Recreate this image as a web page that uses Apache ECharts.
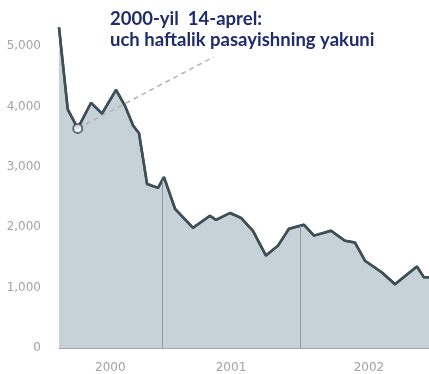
<!DOCTYPE html>
<html>
<head>
<meta charset="utf-8">
<script src="https://cdn.jsdelivr.net/npm/echarts@6/dist/echarts.min.js"></script>
<style>
  html, body { margin: 0; padding: 0; background: #ffffff; }
  #chart { width: 429px; height: 374px; }
</style>
</head>
<body>
<div id="chart"></div>
<script>
// Index level, x measured in months since January 2000
const monthIndex = [3.04, 3.8, 4.67, 5.83, 6.78, 8.0, 8.78, 9.48, 10.0, 10.7, 11.65, 12.17,
  13.13, 14.7, 16.17, 16.7, 17.91, 18.87, 19.91, 21.04, 22.09, 23.04, 24.35, 25.22,
  26.7, 27.91, 28.78, 29.65, 31.13, 32.26, 34.17, 34.78, 35.22];
const indexValue = [5310, 3950, 3635, 4060, 3880, 4275, 4010, 3685, 3555, 2715, 2650, 2830,
  2305, 1990, 2190, 2120, 2235, 2155, 1940, 1530, 1695, 1975, 2040, 1860,
  1940, 1775, 1745, 1445, 1250, 1055, 1350, 1170, 1170];

// Year labels sit mid-way through the visible part of each year
const yearLabels = ['2000', '2001', '2002'];
const yearLabelAt = [7.5, 18, 30];
const yearBoundaries = [12, 24];

// Highlighted low point and callout
const calloutIndex = 2;
const calloutLines = ['2000-yil  14-aprel:', 'uch haftalik pasayishning yakuni'];
const calloutAnchor = [16.5, 4820];

const yTicks = [0, 1000, 2000, 3000, 4000, 5000];

const points = monthIndex.map((m, i) => [m, indexValue[i]]);

function valueAt(m) {
  for (let i = 1; i < monthIndex.length; i++) {
    if (monthIndex[i] >= m) {
      const t = (m - monthIndex[i - 1]) / (monthIndex[i] - monthIndex[i - 1]);
      return indexValue[i - 1] + t * (indexValue[i] - indexValue[i - 1]);
    }
  }
  return indexValue[indexValue.length - 1];
}

const lineColor = '#3f4f57';
const areaColor = '#c6d2d8';

const chart = echarts.init(document.getElementById('chart'), null, { renderer: 'canvas' });

chart.setOption({
  animation: false,
  backgroundColor: '#ffffff',
  grid: { left: 59, right: 0, top: 46, bottom: 24, containLabel: false },
  title: {
    text: calloutLines.join('\n'),
    left: 110,
    top: 9,
    padding: 0,
    textStyle: {
      fontFamily: 'Lato',
      fontWeight: 'bold',
      fontSize: 18.5,
      lineHeight: 21,
      color: '#1f2b6c'
    }
  },
  xAxis: {
    type: 'value',
    min: monthIndex[0],
    max: monthIndex[monthIndex.length - 1],
    axisLine: { show: true, lineStyle: { color: '#9ba7ad', width: 1 } },
    axisTick: { show: false },
    splitLine: { show: false },
    axisLabel: {
      customValues: yearLabelAt,
      formatter: (v) => yearLabels[yearLabelAt.indexOf(v)] || '',
      color: '#a3a3a3',
      fontFamily: 'DejaVu Sans',
      fontSize: 12,
      margin: 14
    }
  },
  yAxis: {
    type: 'value',
    min: 0,
    max: 5000,
    interval: 1000,
    axisLine: { show: false },
    axisTick: { show: false },
    splitLine: { show: false },
    axisLabel: {
      customValues: yTicks,
      formatter: (v) => v.toLocaleString('en-US'),
      color: '#a3a3a3',
      fontFamily: 'DejaVu Sans',
      fontSize: 12,
      margin: 18
    }
  },
  series: [
    {
      type: 'line',
      data: points,
      clip: false,
      symbol: 'none',
      lineStyle: { color: lineColor, width: 2.5 },
      areaStyle: { color: areaColor, opacity: 1 },
      z: 2,
      markLine: {
        silent: true,
        symbol: 'none',
        label: { show: false },
        lineStyle: { color: '#8e9ca3', width: 1, type: 'solid' },
        data: yearBoundaries.map((m) => [{ coord: [m, 0] }, { coord: [m, valueAt(m)] }])
      }
    },
    {
      type: 'line',
      data: [points[calloutIndex], calloutAnchor],
      symbol: 'none',
      clip: false,
      lineStyle: { color: '#b3b3b3', width: 1.5, type: [5, 4] },
      z: 3
    },
    {
      type: 'line',
      data: points,
      clip: false,
      symbol: 'none',
      lineStyle: { color: lineColor, width: 2.5 },
      z: 4
    },
    {
      type: 'scatter',
      data: [points[calloutIndex]],
      symbol: 'circle',
      symbolSize: 9,
      itemStyle: { color: '#ffffff', borderColor: lineColor, borderWidth: 2 },
      z: 5
    }
  ]
});
</script>
</body>
</html>
